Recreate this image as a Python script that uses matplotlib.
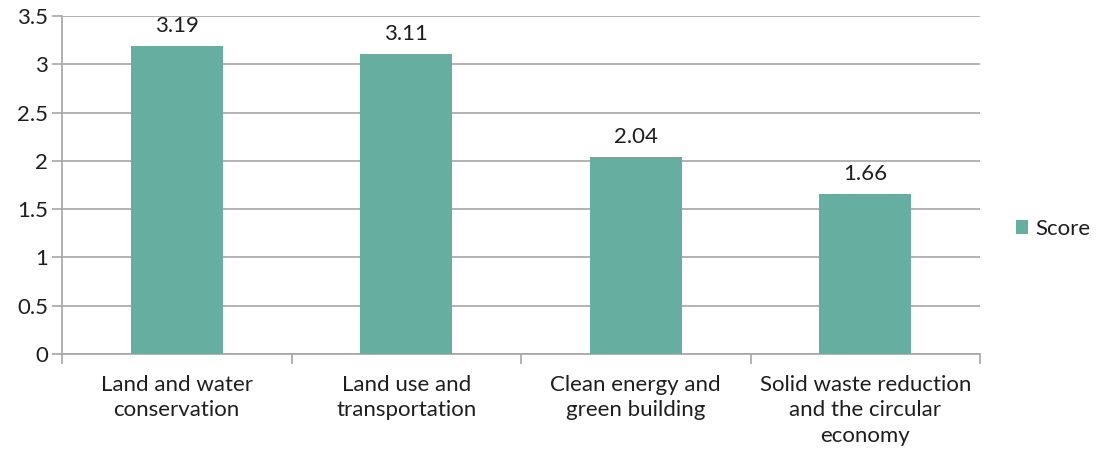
import matplotlib.pyplot as plt
import numpy as np
from matplotlib.patches import Patch

categories = [
    "Land and water\nconservation",
    "Land use and\ntransportation",
    "Clean energy and\ngreen building",
    "Solid waste reduction\nand the circular\neconomy",
]
scores = [3.19, 3.11, 2.04, 1.66]
value_labels = ["3.19", "3.11", "2.04", "1.66"]
y_ticks = [0, 0.5, 1, 1.5, 2, 2.5, 3, 3.5]
y_tick_labels = ["0", "0.5", "1", "1.5", "2", "2.5", "3", "3.5"]

bar_color = "#66ae9f"
grid_color = "#a6a6a6"
text_color = "#1e1e1e"
fs = 16

plt.rcParams["font.family"] = ["Lato", "DejaVu Sans"]

fig = plt.figure(figsize=(10.96, 4.51), dpi=100)
ax = fig.add_axes([62 / 1096, 1 - 354 / 451, 918 / 1096, 338 / 451])

x = np.arange(len(categories))
ax.bar(x, scores, width=0.40, color=bar_color, zorder=3)
for xi, v, lab in zip(x, scores, value_labels):
    ax.text(xi, v + 0.1, lab, ha="center", va="bottom", fontsize=fs,
            color=text_color)

ax.set_xlim(-0.5, len(categories) - 0.5)
ax.set_ylim(0, 3.5)
ax.set_yticks(y_ticks)
ax.set_yticklabels(y_tick_labels, fontsize=fs, color=text_color)
ax.set_xticks(x)
ax.set_xticklabels(categories, fontsize=fs, color=text_color, linespacing=1.34)
ax.set_xticks(np.arange(-0.5, len(categories), 1.0), minor=True)
ax.tick_params(axis="x", which="major", length=0, pad=15)
ax.tick_params(axis="x", which="minor", length=7, color=grid_color, width=1.2)
ax.tick_params(axis="y", length=7, color=grid_color, width=1.2, pad=3)

ax.yaxis.grid(True, color=grid_color, linewidth=1.2, zorder=0)
ax.set_axisbelow(True)
for s in ["top", "right"]:
    ax.spines[s].set_visible(False)
for s in ["left", "bottom"]:
    ax.spines[s].set_color(grid_color)
    ax.spines[s].set_linewidth(1.2)

handles = [Patch(facecolor=bar_color, label="Score")]
fig.legend(handles=handles, loc="center left", bbox_to_anchor=(1016 / 1096, 1 - 229 / 451),
           frameon=False, fontsize=fs, handlelength=0.55, handleheight=0.55,
           handletextpad=0.3, borderpad=0, borderaxespad=0, labelcolor=text_color)

fig.savefig("out.png", dpi=100)
